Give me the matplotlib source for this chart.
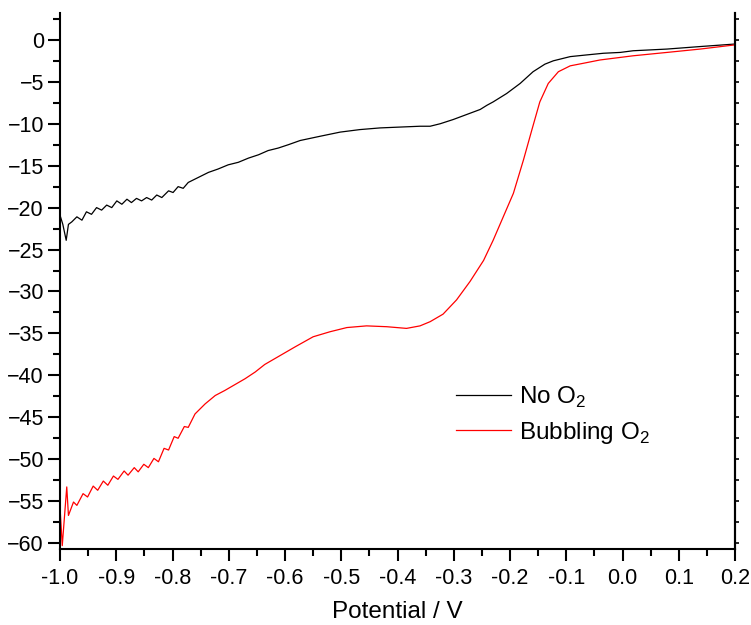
import matplotlib
matplotlib.use("Agg")
import matplotlib.pyplot as plt
from matplotlib.ticker import MultipleLocator

plt.rcParams["font.family"] = ["Liberation Sans", "DejaVu Sans"]
plt.rcParams["mathtext.fontset"] = "custom"
plt.rcParams["mathtext.rm"] = "Liberation Sans"

# ---- data ----
v_no_o2 = [-1.000, -0.995, -0.989, -0.985, -0.979, -0.970, -0.961, -0.953, -0.944,
           -0.935, -0.926, -0.917, -0.908, -0.899, -0.890, -0.881, -0.873, -0.864,
           -0.855, -0.846, -0.837, -0.828, -0.819, -0.807, -0.799, -0.790, -0.781,
           -0.772, -0.754, -0.736, -0.719, -0.701, -0.683, -0.665, -0.647, -0.630,
           -0.612, -0.594, -0.573, -0.538, -0.502, -0.467, -0.431, -0.396, -0.360,
           -0.342, -0.324, -0.301, -0.277, -0.253, -0.241, -0.230, -0.206, -0.182,
           -0.159, -0.138, -0.123, -0.093, -0.064, -0.034, -0.004, 0.019, 0.079,
           0.138, 0.200]
i_no_o2 = [-20.9, -22.0, -23.9, -22.0, -21.7, -21.1, -21.5, -20.5, -20.8,
           -20.0, -20.3, -19.7, -20.0, -19.2, -19.6, -19.0, -19.4, -18.9,
           -19.2, -18.8, -19.1, -18.5, -18.8, -18.0, -18.2, -17.5, -17.7,
           -17.0, -16.4, -15.8, -15.4, -14.9, -14.6, -14.1, -13.7, -13.2,
           -12.9, -12.5, -12.0, -11.5, -11.0, -10.7, -10.5, -10.4, -10.3,
           -10.3, -10.0, -9.5, -8.9, -8.3, -7.8, -7.4, -6.4, -5.2,
           -3.8, -2.9, -2.5, -2.0, -1.8, -1.6, -1.5, -1.3, -1.1,
           -0.8, -0.5]

v_bubbling = [-1.000, -0.996, -0.988, -0.985, -0.976, -0.970, -0.959, -0.951, -0.941,
              -0.933, -0.923, -0.915, -0.905, -0.897, -0.886, -0.879, -0.868, -0.861,
              -0.851, -0.843, -0.833, -0.825, -0.815, -0.807, -0.797, -0.790, -0.779,
              -0.772, -0.760, -0.742, -0.724, -0.707, -0.689, -0.671, -0.653, -0.636,
              -0.618, -0.600, -0.582, -0.550, -0.520, -0.490, -0.455, -0.419, -0.384,
              -0.360, -0.342, -0.319, -0.295, -0.271, -0.247, -0.230, -0.212, -0.194,
              -0.176, -0.161, -0.147, -0.132, -0.114, -0.093, -0.070, -0.040, 0.019,
              0.079, 0.138, 0.200]
i_bubbling = [-55.7, -60.3, -53.3, -56.7, -55.1, -55.5, -54.1, -54.5, -53.2,
              -53.7, -52.6, -53.1, -52.0, -52.4, -51.4, -51.9, -51.0, -51.5,
              -50.6, -51.0, -49.9, -50.3, -48.7, -48.9, -47.3, -47.5, -46.1,
              -46.2, -44.6, -43.4, -42.4, -41.8, -41.1, -40.4, -39.6, -38.7,
              -38.0, -37.3, -36.6, -35.4, -34.8, -34.3, -34.1, -34.2, -34.4,
              -34.1, -33.6, -32.7, -31.0, -28.8, -26.3, -23.9, -21.1, -18.3,
              -14.3, -10.7, -7.4, -5.2, -3.8, -3.1, -2.8, -2.4, -1.9,
              -1.5, -1.1, -0.6]

fig = plt.figure(figsize=(7.51, 6.25), dpi=100)
ax = fig.add_axes([0.0799, 0.1216, 0.8988, 0.8576])

ax.plot(v_no_o2, i_no_o2, color="black", lw=0.9, solid_joinstyle="round",
        label="No O$_2$")
ax.plot(v_bubbling, i_bubbling, color="#ff0000", lw=0.9, solid_joinstyle="round",
        label="Bubbling O$_2$")

ax.set_xlim(-1.0, 0.2)
ax.set_ylim(-60.7, 3.2)

ax.xaxis.set_major_locator(MultipleLocator(0.1))
ax.xaxis.set_minor_locator(MultipleLocator(0.05))
ax.yaxis.set_major_locator(MultipleLocator(5))
ax.yaxis.set_minor_locator(MultipleLocator(2.5))
ax.xaxis.set_major_formatter(plt.FuncFormatter(lambda x, p: f"{x:.1f}"))

ax.spines["top"].set_visible(False)
for s in ["left", "right", "bottom"]:
    ax.spines[s].set_linewidth(1.5)

ax.tick_params(which="major", direction="out", length=8.5, width=1.5, labelsize=15.5)
ax.tick_params(which="minor", direction="out", length=5, width=1.5)
ax.tick_params(axis="y", which="major", pad=3)
ax.tick_params(axis="x", which="major", pad=5)

# right spine: short unlabeled ticks
sec = ax.secondary_yaxis("right")
sec.yaxis.set_major_locator(MultipleLocator(5))
sec.yaxis.set_minor_locator(MultipleLocator(2.5))
sec.tick_params(which="both", direction="out", length=3, width=1.2, labelright=False)
sec.spines["right"].set_linewidth(1.5)

ax.set_xlabel("Potential / V", fontsize=17.5, labelpad=9)

ax.legend(loc="upper left", bbox_to_anchor=(0.586, 0.306), frameon=False,
          fontsize=17.5, handlelength=2.3, handletextpad=0.3, labelspacing=0.4,
          borderpad=0, borderaxespad=0)

fig.savefig("out.png", dpi=100)
